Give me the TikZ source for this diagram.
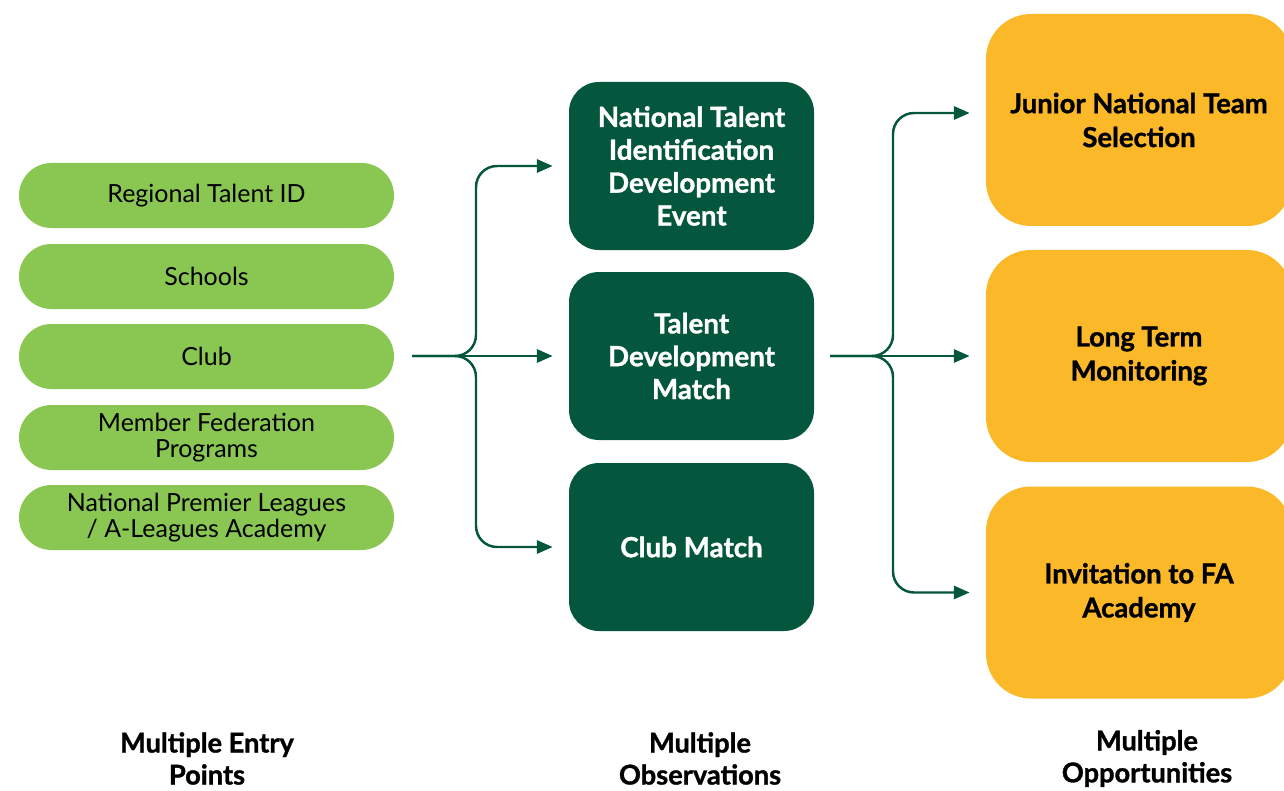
\documentclass[tikz,border=0pt]{standalone}
\usepackage{fontspec}
\setmainfont{Lato}[BoldFeatures={FakeBold=1.2}]
\usetikzlibrary{arrows.meta}

\definecolor{leaf}{RGB}{138,198,82}
\definecolor{forest}{RGB}{4,86,60}
\definecolor{amber}{RGB}{251,184,40}

\begin{document}
\begin{tikzpicture}[
        entry/.style={shape=rectangle, rounded corners=0.65cm, fill=leaf, minimum width=7.5cm, minimum height=1.3cm, align=center, font=\fontsize{14.2}{14.7}\selectfont},
        observe/.style={shape=rectangle, rounded corners=0.6cm, fill=forest, text=white, minimum width=4.9cm, minimum height=3.36cm, align=center, font=\fontsize{15.8}{18.7}\selectfont\bfseries},
        chance/.style={shape=rectangle, rounded corners=0.9cm, fill=amber, minimum width=6.12cm, minimum height=4.24cm, align=center, font=\fontsize{15.6}{19.3}\selectfont\bfseries},
        caption/.style={align=center, font=\fontsize{15.5}{18.2}\selectfont\bfseries},
        link/.style={draw=forest, line width=1.4pt, rounded corners=0.42cm, -{Triangle[length=9pt,width=7.5pt]}}
    ]
        \useasboundingbox (0, 0) rectangle (25.68, -15.82);
        \clip (0, 0) rectangle (25.68, -15.82);

        % entry points
        \node[entry] (E1) at (4.13, -3.91) {Regional Talent ID};
        \node[entry] (E2) at (4.13, -5.53) {Schools};
        \node[entry] (E3) at (4.13, -7.13) {Club};
        \node[entry] (E4) at (4.13, -8.75) {Member Federation\\Programs};
        \node[entry] (E5) at (4.13, -10.35) {National Premier Leagues\\/ A-Leagues Academy};

        % observations
        \node[observe] (O1) at (13.83, -3.32) {National Talent\\Identification\\Development\\Event};
        \node[observe] (O2) at (13.83, -7.12) {Talent\\Development\\Match};
        \node[observe] (O3) at (13.83, -10.94) {Club Match};

        % opportunities
        \node[chance] (P1) at (22.78, -2.40) {Junior National Team\\Selection};
        \node[chance] (P2) at (22.78, -7.12) {Long Term\\Monitoring};
        \node[chance] (P3) at (22.78, -11.85) {Invitation to FA\\Academy};

        % captions
        \node[caption] (C1) at (4.14, -15.17) {Multiple Entry\\Points};
        \node[caption] (C2) at (14.0, -15.17) {Multiple\\Observations};
        \node[caption] (C3) at (22.94, -15.17) {Multiple\\Opportunities};

        % forks
        \coordinate (L) at (8.24, -7.12);
        \coordinate (LF) at (9.52, -7.12);
        \coordinate (R) at (16.6, -7.12);
        \coordinate (RF) at (17.86, -7.12);

        \draw[link] (L) -- (LF) |- ([xshift=-0.32cm]O1.west);
        \draw[link] (L) -- ([xshift=-0.32cm]O2.west);
        \draw[link] (L) -- (LF) |- ([xshift=-0.32cm]O3.west);

        \draw[link] (R) -- (RF) |- ([xshift=-0.32cm, yshift=0.14cm]P1.west);
        \draw[link] (R) -- ([xshift=-0.32cm]P2.west);
        \draw[link] (R) -- (RF) |- ([xshift=-0.32cm]P3.west);
    \end{tikzpicture}
\end{document}
